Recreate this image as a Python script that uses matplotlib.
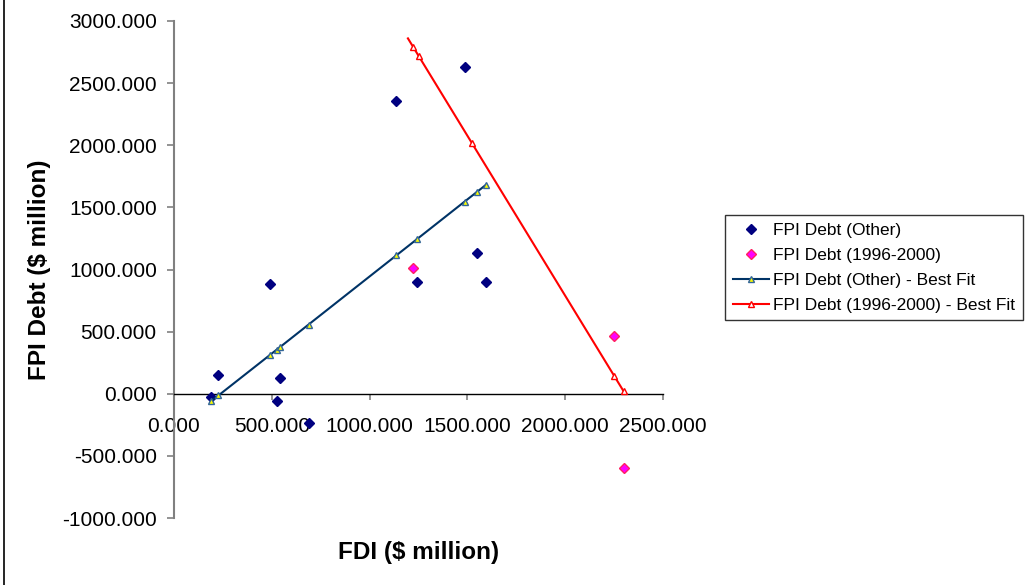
import matplotlib
matplotlib.use("Agg")
import matplotlib.pyplot as plt
from matplotlib.lines import Line2D
from matplotlib.ticker import FixedLocator, FormatStrFormatter

plt.rcParams['font.family'] = ['Liberation Sans', 'DejaVu Sans']

# ---- data ----
other_fdi = [190, 227, 492, 526, 540, 688, 1137, 1242, 1486, 1547, 1596]
other_fpi = [-25, 153, 881, -56, 123, -234, 2360, 898, 2626, 1134, 900]

recent_fdi = [1224, 2250, 2299]
recent_fpi = [1010, 462, -594]

other_fit_fdi = [190, 227, 492, 526, 540, 688, 1137, 1242, 1486, 1547, 1596]
other_fit_fpi = [-60, -14, 314, 356, 373, 557, 1114, 1244, 1547, 1622, 1683]

recent_fit_fdi = [1196, 1224, 1251, 1522, 2250, 2299]
recent_fit_fpi = [2860, 2788, 2718, 2020, 145, 19]

x_ticks = [0, 500, 1000, 1500, 2000, 2500]
y_ticks = [-1000, -500, 0, 500, 1000, 1500, 2000, 2500, 3000]

labels = ["FPI Debt (Other)", "FPI Debt (1996-2000)",
          "FPI Debt (Other) - Best Fit", "FPI Debt (1996-2000) - Best Fit"]

W, H = 1030, 585
fig = plt.figure(figsize=(W / 100, H / 100), dpi=100)
L, R, T, B = 174, 663, 21, 518
ax = fig.add_axes([L / W, 1 - B / H, (R - L) / W, (B - T) / H])

ax.set_xlim(0, 2500)
ax.set_ylim(-1000, 3000)

ax.plot(other_fdi, other_fpi, linestyle='none', marker='D', markersize=5.5,
        color='#000080', markeredgecolor='#000080', label=labels[0], zorder=3)
ax.plot(recent_fdi, recent_fpi, linestyle='none', marker='D', markersize=5.5,
        color='#FF00FF', markeredgecolor='#FF2060', markeredgewidth=1.0,
        label=labels[1], zorder=3)
ax.plot(other_fit_fdi, other_fit_fpi, color='#003366', linewidth=1.5,
        marker='^', markersize=4.5, markerfacecolor='#FFFF00',
        markeredgecolor='#336699', markeredgewidth=1.0, label=labels[2], zorder=4)
ax.plot(recent_fit_fdi, recent_fit_fpi, color='#FF0000', linewidth=1.5,
        marker='^', markersize=4.5, markerfacecolor='white',
        markeredgecolor='#FF0000', markeredgewidth=1.0,
        markevery=list(range(1, len(recent_fit_fdi))), label=labels[3], zorder=4)

for s in ['top', 'right']:
    ax.spines[s].set_visible(False)
ax.spines['bottom'].set_position(('data', 0))
ax.spines['bottom'].set_color('black')
ax.spines['bottom'].set_linewidth(1.0)
ax.spines['left'].set_color('#808080')
ax.spines['left'].set_linewidth(1.5)

ax.xaxis.set_major_locator(FixedLocator(x_ticks))
ax.yaxis.set_major_locator(FixedLocator(y_ticks))
ax.xaxis.set_major_formatter(FormatStrFormatter('%.3f'))
ax.yaxis.set_major_formatter(FormatStrFormatter('%.3f'))
ax.tick_params(axis='x', direction='out', length=4.3, width=1.2, color='#808080',
               pad=12.5, labelsize=15, labelcolor='black')
ax.tick_params(axis='y', direction='out', length=5, width=1.2, color='#808080',
               pad=7.4, labelsize=15, labelcolor='black')

fig.text(418.5 / W, 1 - 553 / H, "FDI ($ million)", fontsize=17.5, fontweight='bold',
         ha='center', va='center')
fig.text(40 / W, 1 - 269.5 / H, "FPI Debt ($ million)", fontsize=17.5, fontweight='bold',
         ha='center', va='center', rotation=90)

leg = fig.legend(loc='upper left', bbox_to_anchor=(725 / W, 1 - 215 / H),
                 bbox_transform=fig.transFigure, fontsize=12.5, frameon=True,
                 fancybox=False, shadow=False, borderaxespad=0, handlelength=2.1,
                 handletextpad=0.2, labelspacing=0.56, borderpad=0.45)
leg.get_frame().set_edgecolor('black')
leg.get_frame().set_linewidth(1.0)

fig.add_artist(Line2D([3.5 / W, 3.5 / W], [0, 1], color='black', linewidth=1.2))

fig.savefig('out.png', dpi=100)
